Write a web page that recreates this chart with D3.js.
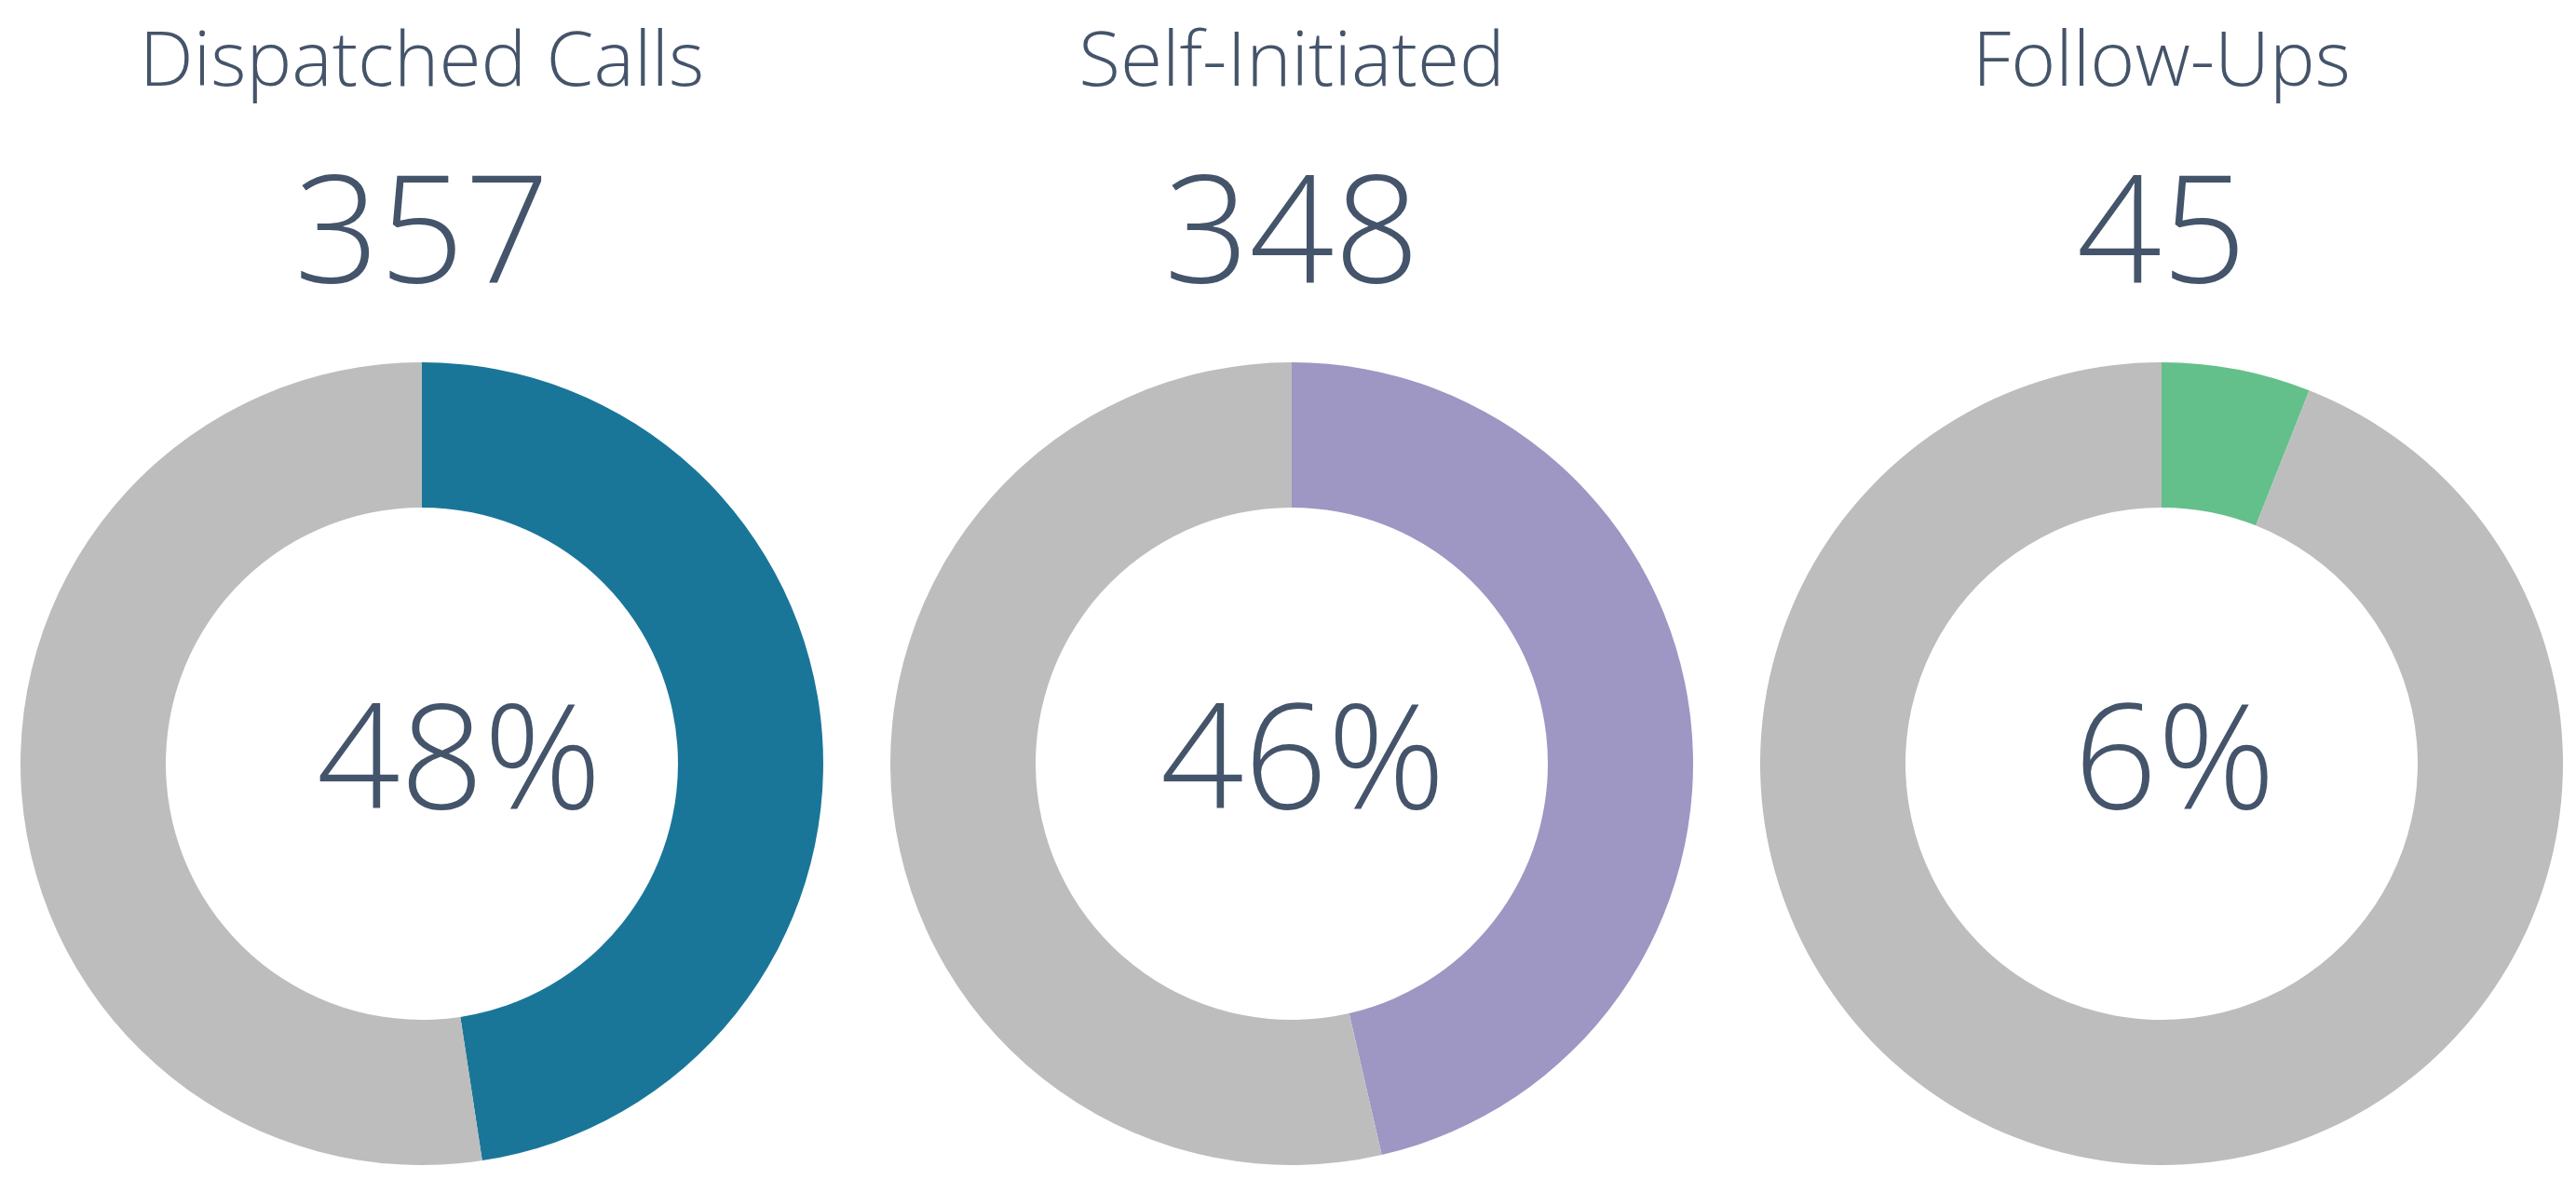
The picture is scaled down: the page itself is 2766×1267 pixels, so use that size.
<!DOCTYPE html>
<html>
<head>
<meta charset="utf-8">
<script src="https://cdn.jsdelivr.net/npm/d3@7"></script>
<style>
  html, body { margin: 0; padding: 0; background: #ffffff; }
  svg { display: block; }
  text { font-family: "Open Sans", "Noto Sans", sans-serif; font-weight: 300; fill: #44546a; }
</style>
</head>
<body>
<svg id="chart" width="2766" height="1267"></svg>
<script>
// ---- data ----
const categories = ["Dispatched Calls", "Self-Initiated", "Follow-Ups"];
const counts = [357, 348, 45];
const colors = ["#1a7699", "#9e96c3", "#64c08b"];
const restColor = "#bdbdbd";

// ---- layout (not data) ----
const pctLabelShift = [40, 12, 14];

const total = d3.sum(counts);
const svg = d3.select("#chart");

const x = d3.scalePoint().domain(categories).range([453, 2321]);
const cy = 820, rOut = 431, rIn = 275;

const pie = d3.pie().sort(null).value(d => d.v);
const arc = d3.arc().innerRadius(rIn).outerRadius(rOut);

categories.forEach((cat, i) => {
  const cx = x(cat);
  const g = svg.append("g").attr("transform", `translate(${cx},${cy})`);
  const parts = [{ v: counts[i], c: colors[i] }, { v: total - counts[i], c: restColor }];
  g.selectAll("path").data(pie(parts)).join("path")
    .attr("d", arc)
    .attr("fill", d => d.data.c);

  const pct = Math.round(counts[i] / total * 100);
  g.append("text").attr("text-anchor", "middle")
    .attr("x", pctLabelShift[i]).attr("y", 868 - cy)
    .style("font-size", "157px").text(pct + "%");

  svg.append("text").attr("x", cx).attr("y", 92).attr("text-anchor", "middle")
    .style("font-size", "82px").text(cat);
  svg.append("text").attr("x", cx).attr("y", 303).attr("text-anchor", "middle")
    .style("font-size", "160px").text(counts[i]);
});
</script>
</body>
</html>
